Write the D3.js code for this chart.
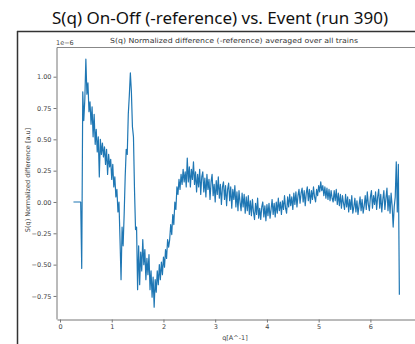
<!DOCTYPE html>
<html><head><meta charset="utf-8">
<script src="https://cdn.jsdelivr.net/npm/d3@7"></script>
<style>body{margin:0;background:#fff}svg{display:block}</style>
</head><body>
<svg id="c" width="415" height="344"></svg>
<script>
// Sampling grid of q [A^-1]
const qStart = 0.26, qStep = 0.02;
// S(q) normalized difference, units of 1e-6
const values = [
  0, 0, 0, 0, 0, 0, 0, 0,
  -0.53, 0.88, 0.65, 0.82, 1.14, 0.86, 0.95, 0.72, 0.80, 0.62,
  0.76, 0.52, 0.70, 0.46, 0.58, 0.40, 0.52, 0.20, 0.50, 0.38,
  0.47, 0.36, 0.44, 0.30, 0.42, 0.22, 0.38, 0.28, 0.34, 0.18,
  0.30, 0.12, 0.20, 0.04, 0.10, -0.08, 0.00, -0.30, -0.62, -0.20,
  -0.35, -0.10, 0.20, 0.42, 0.38, 0.70, 0.85, 1.03, 0.88, 0.60,
  0.52, 0.10, -0.22, -0.20, -0.70, -0.35, -0.66, -0.40, -0.55, -0.30,
  -0.50, -0.38, -0.62, -0.45, -0.58, -0.42, -0.70, -0.55, -0.76, -0.60,
  -0.84, -0.62, -0.72, -0.55, -0.66, -0.50, -0.62, -0.48, -0.58, -0.44,
  -0.52, -0.38, -0.45, -0.30, -0.36, -0.30, -0.18, -0.26, -0.10, -0.18,
  0.00, -0.06, 0.12, 0.06, 0.18, 0.10, 0.22, 0.14, 0.26, 0.16,
  0.24, 0.12, 0.35,
  0.16, 0.28, 0.12, 0.26, 0.18, 0.32, 0.14, 0.24, 0.08, 0.22,
  0.12, 0.26, 0.06, 0.20, 0.24, 0.08, 0.19, 0.04, 0.22, 0.10,
  0.18, 0.02, 0.16, 0.22, 0.05, 0.14, 0.00, 0.17, 0.06, 0.20,
  0.03, 0.14, -0.02, 0.12, 0.16, 0.02, 0.13, -0.03, 0.10, 0.15,
  0.01, 0.12, -0.05, 0.10, 0.02, 0.13, -0.04, 0.08, -0.07, 0.09,
  0.00, -0.07, 0.07, -0.04, 0.06, -0.09, 0.04, -0.07, 0.05, -0.10,
  0.01, -0.11, 0.02, -0.08, -0.14, -0.01, -0.10, 0.03, -0.13, -0.05,
  -0.14, -0.04, 0.00, -0.12, -0.03, -0.15, -0.02, -0.11, -0.01, -0.13,
  -0.06, 0.02, -0.10, -0.01, -0.12, 0.00, -0.09, 0.03, -0.07, 0.00,
  -0.10, 0.01, -0.06, 0.05, -0.05, -0.09, 0.04, -0.04, 0.06, -0.03,
  0.04, -0.06, 0.07, -0.02, 0.08, -0.04, 0.05, 0.10, -0.01, 0.07,
  0.11, 0.00, 0.09, -0.03, 0.07, 0.12, 0.01, 0.10, -0.01, 0.09,
  0.02, 0.12, 0.04, 0.00, 0.10, 0.05, 0.13, 0.08, 0.16, 0.09,
  0.13, 0.05, 0.12, 0.03, 0.11, 0.02, 0.10, 0.01, 0.09, 0.03,
  0.00, 0.09, 0.01, 0.10, -0.02, 0.07, -0.03, 0.06, -0.05, 0.05,
  -0.01, -0.06, 0.06, -0.04, 0.04, -0.08, 0.02, -0.06, 0.05, -0.09,
  -0.04, 0.03, -0.08, 0.01, -0.10, -0.03, 0.04, -0.07, 0.02, -0.09,
  -0.03, 0.05, -0.06, 0.08, -0.02, -0.07, 0.04, 0.09, -0.05, 0.05,
  -0.02, 0.08, -0.06, 0.04, 0.10, -0.05, 0.06, -0.08, 0.02, 0.09,
  -0.06, 0.03, 0.11, -0.07, 0.05, -0.09, 0.07, -0.03, -0.20, -0.04,
  0.04, 0.32, -0.08, 0.30, -0.74
];
const xTicks = [0, 1, 2, 3, 4, 5, 6];
const yTicks = [-0.75, -0.5, -0.25, 0, 0.25, 0.5, 0.75, 1.0];

const mainTitle = "S(q) On-Off (-reference) vs. Event (run 390)";
const plotTitle = "S(q) Normalized difference (-reference) averaged over all trains";
const xLabel = "q[A^-1]";
const yLabel = "S(q) Normalized difference [a.u]";
const expLabel = "1e\u22126";

const data = values.map((v, i) => ({q: qStart + i * qStep, v}));

const svg = d3.select("#c");
const L = 57, R = 418, T = 47, B = 319;
const x = d3.scaleLinear().domain([-0.058, 6.92]).range([L, R]);
const y = d3.scaleLinear().domain([-0.934, 1.237]).range([B, T]);

// outer frame
svg.append("line").attr("x1", 17.5).attr("x2", 17.5).attr("y1", 31).attr("y2", 344)
  .attr("stroke", "#333").attr("stroke-width", 1.5);
svg.append("line").attr("x1", 17).attr("x2", 415).attr("y1", 31.5).attr("y2", 31.5)
  .attr("stroke", "#333").attr("stroke-width", 1.5);

svg.append("text").attr("x", 220).attr("y", 24).attr("text-anchor", "middle")
  .attr("font-family", "Noto Sans, sans-serif").attr("font-size", 16.5).attr("fill", "#111")
  .attr("textLength", 336).attr("lengthAdjust", "spacingAndGlyphs")
  .text(mainTitle);

svg.append("text").attr("x", 234).attr("y", 43).attr("text-anchor", "middle")
  .attr("font-family", "DejaVu Sans, sans-serif").attr("font-size", 7).attr("fill", "#333")
  .attr("textLength", 248).attr("lengthAdjust", "spacingAndGlyphs")
  .text(plotTitle);

svg.append("text").attr("x", 56).attr("y", 45)
  .attr("font-family", "DejaVu Sans, sans-serif").attr("font-size", 6.5).attr("fill", "#444")
  .text(expLabel);

// top spine
svg.append("line").attr("x1", L).attr("x2", R).attr("y1", T + 0.5).attr("y2", T + 0.5)
  .attr("stroke", "#888").attr("stroke-width", 1);

const xAxis = svg.append("g").attr("transform", `translate(0,${B + 0.5})`)
  .call(d3.axisBottom(x).tickValues(xTicks).tickFormat(d3.format("d")).tickSize(3).tickSizeOuter(0).tickPadding(2));
const yAxis = svg.append("g").attr("transform", `translate(${L - 0.5},0)`)
  .call(d3.axisLeft(y).tickValues(yTicks).tickFormat(d3.format(".2f")).tickSize(3).tickSizeOuter(0).tickPadding(2));
[xAxis, yAxis].forEach(g => {
  g.select(".domain").attr("stroke", "#777");
  g.selectAll(".tick line").attr("stroke", "#777");
  g.selectAll(".tick text").attr("font-family", "DejaVu Sans, sans-serif")
    .attr("font-size", 6.5).attr("fill", "#444");
});

svg.append("text").attr("x", 235).attr("y", 340).attr("text-anchor", "middle")
  .attr("font-family", "DejaVu Sans, sans-serif").attr("font-size", 6.5).attr("fill", "#444")
  .text(xLabel);

svg.append("text").attr("transform", "translate(30,180) rotate(-90)").attr("text-anchor", "middle")
  .attr("font-family", "DejaVu Sans, sans-serif").attr("font-size", 6.5).attr("fill", "#444")
  .text(yLabel);

const line = d3.line().x(d => x(d.q)).y(d => y(d.v));
svg.append("path").datum(data).attr("d", line)
  .attr("fill", "none").attr("stroke", "#1f77b4").attr("stroke-width", 1.2)
  .attr("stroke-linejoin", "round");
</script>
</body></html>
